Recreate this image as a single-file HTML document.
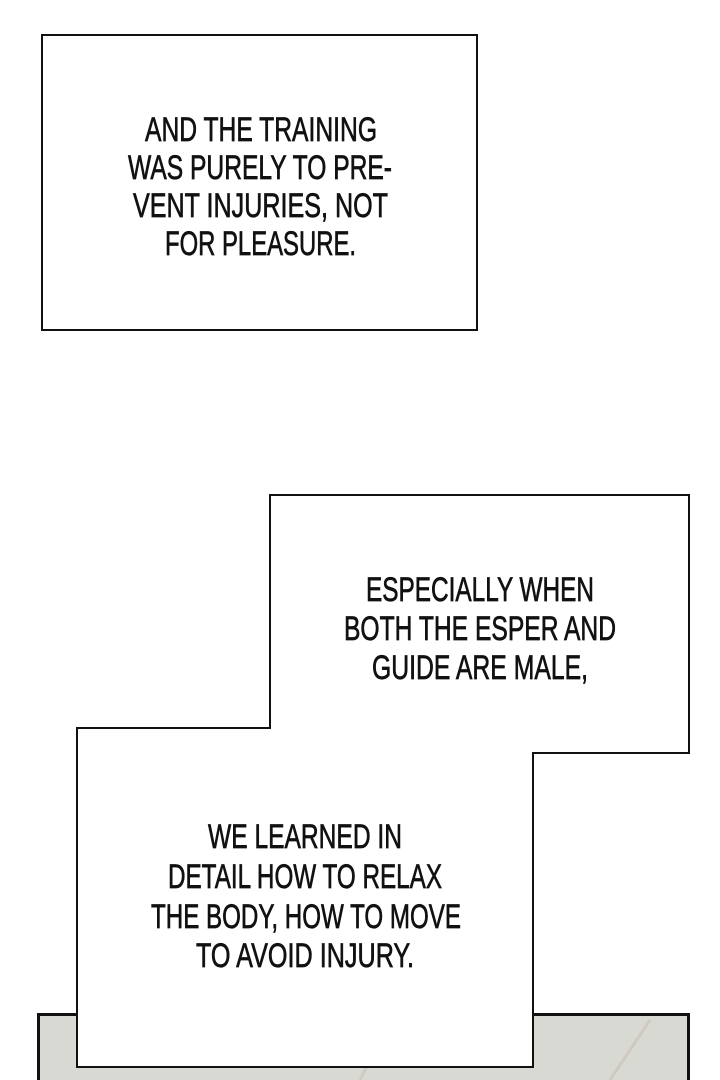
<!DOCTYPE html>
<html><head><meta charset="utf-8"><style>
html,body{margin:0;padding:0;background:#fff;width:720px;height:1080px;overflow:hidden}
text{font-family:"Liberation Sans",sans-serif;font-size:34px;fill:#111;stroke:#111;stroke-width:0.7px;}
</style></head><body>
<svg width="720" height="1080" viewBox="0 0 720 1080" xmlns="http://www.w3.org/2000/svg">
<rect x="0" y="0" width="720" height="1080" fill="#fff"/>
<rect x="38.5" y="1014.5" width="650" height="80" fill="#d9d9d3" stroke="#111" stroke-width="3"/>
<path d="M360 1080 L380 1040 M610 1080 L650 1020" stroke="#c9bfb2" stroke-width="3" opacity="0.6"/>
<rect x="42" y="35" width="435" height="295" fill="#fff" stroke="#111" stroke-width="2"/>
<text x="145" y="141" textLength="232" lengthAdjust="spacingAndGlyphs">AND THE TRAINING</text>
<text x="128" y="179" textLength="264" lengthAdjust="spacingAndGlyphs">WAS PURELY TO PRE-</text>
<text x="133" y="217" textLength="255" lengthAdjust="spacingAndGlyphs">VENT INJURIES, NOT</text>
<text x="165" y="255" textLength="191" lengthAdjust="spacingAndGlyphs">FOR PLEASURE.</text>
<polygon points="270,495 689,495 689,753 533,753 533,1067 77,1067 77,728 270,728" fill="#fff" stroke="#111" stroke-width="2"/>
<text x="366" y="601" textLength="228" lengthAdjust="spacingAndGlyphs">ESPECIALLY WHEN</text>
<text x="344" y="640" textLength="272" lengthAdjust="spacingAndGlyphs">BOTH THE ESPER AND</text>
<text x="372" y="679" textLength="216" lengthAdjust="spacingAndGlyphs">GUIDE ARE MALE,</text>
<text x="208" y="848" textLength="194" lengthAdjust="spacingAndGlyphs">WE LEARNED IN</text>
<text x="168" y="888" textLength="274" lengthAdjust="spacingAndGlyphs">DETAIL HOW TO RELAX</text>
<text x="151" y="928" textLength="310" lengthAdjust="spacingAndGlyphs">THE BODY, HOW TO MOVE</text>
<text x="196" y="967" textLength="218" lengthAdjust="spacingAndGlyphs">TO AVOID INJURY.</text>
</svg>
</body></html>
